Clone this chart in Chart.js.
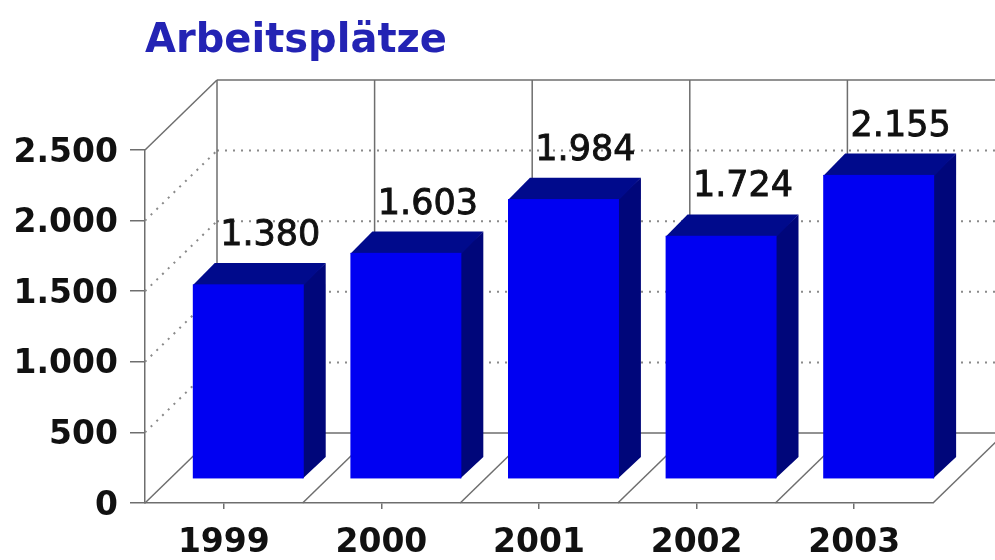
<!DOCTYPE html>
<html lang="de">
<head>
<meta charset="utf-8">
<title>Arbeitsplätze</title>
<script src="https://cdn.jsdelivr.net/npm/chart.js@4/dist/chart.umd.min.js"></script>
<style>
  html, body { margin: 0; padding: 0; background: #fff; }
  canvas { display: block; }
</style>
</head>
<body>
<canvas id="jobsChart" width="995" height="560"></canvas>
<script>
// Arbeitsplätze je Jahr
const years = ['1999', '2000', '2001', '2002', '2003'];
const jobs = [1380, 1603, 1984, 1724, 2155];
const yTicks = [0, 500, 1000, 1500, 2000, 2500];

// deutsche Tausenderpunkte: 1380 -> 1.380
function fmt(n) {
    return String(n).replace(/\B(?=(\d{3})+(?!\d))/g, '.');
}

// Tiefe des Raums (Boden/Seitenwand) und Lage der Säulen darin
const depth = { dx: 72, dy: -70 };
const barFront = 0.34, barBack = 0.645;

const lineColor = '#6e6e6e';
const dotColor = '#8a8a8a';
const frontColor = '#0000f2';
const topColor = '#000a8c';
const sideColor = '#00067a';

function line(ctx, x1, y1, x2, y2) {
    ctx.beginPath();
    ctx.moveTo(x1, y1);
    ctx.lineTo(x2, y2);
    ctx.stroke();
}

function poly(ctx, pts, color) {
    ctx.beginPath();
    ctx.moveTo(pts[0][0], pts[0][1]);
    for (let i = 1; i < pts.length; i++) ctx.lineTo(pts[i][0], pts[i][1]);
    ctx.closePath();
    ctx.fillStyle = color;
    ctx.fill();
}

const box3d = {
    id: 'box3d',
    beforeDatasetsDraw(chart) {
        const { ctx, chartArea: a, scales: { y } } = chart;
        const catW = (a.right - a.left) / years.length;
        const top = y.getPixelForValue(yTicks[yTicks.length - 1]);
        const zero = y.getPixelForValue(0);
        const dx = depth.dx, dy = depth.dy;
        ctx.save();

        // gepunktete Hilfslinien auf Seiten- und Rückwand
        ctx.strokeStyle = dotColor;
        ctx.lineWidth = 2;
        ctx.setLineDash([2, 6]);
        yTicks.slice(1, -1).forEach(v => {
            const py = y.getPixelForValue(v);
            line(ctx, a.left, py, a.left + dx, py + dy);
            line(ctx, a.left + dx, py + dy, a.right + dx, py + dy);
        });
        ctx.setLineDash([]);

        // Kanten von Wand und Boden
        ctx.strokeStyle = lineColor;
        ctx.lineWidth = 1.5;
        line(ctx, a.left, top, a.left + dx, top + dy);
        line(ctx, a.left + dx, top + dy, a.right + dx, top + dy);
        line(ctx, a.left + dx, zero + dy, a.right + dx, zero + dy);
        for (let k = 0; k <= years.length; k++) {
            const fx = a.left + k * catW;
            line(ctx, fx + dx, top + dy, fx + dx, zero + dy);
            line(ctx, fx, zero, fx + dx, zero + dy);
        }
        ctx.restore();
    },
    afterDatasetsDraw(chart) {
        const { ctx } = chart;
        const meta = chart.getDatasetMeta(0);
        const f = { dx: depth.dx * barFront, dy: depth.dy * barFront };
        const b = { dx: depth.dx * barBack, dy: depth.dy * barBack };
        const ddx = b.dx - f.dx, ddy = b.dy - f.dy;
        ctx.save();
        meta.data.forEach((bar, i) => {
            const { x, y, base, width } = bar.getProps(['x', 'y', 'base', 'width'], true);
            const l = x - width / 2 + f.dx, r = x + width / 2 + f.dx;
            const t = y + f.dy, btm = base + f.dy;
            // Seite und Deckel etwas unter die Front ziehen, damit keine Naht bleibt
            poly(ctx, [[r - 1, t], [r + ddx, t + ddy], [r + ddx, btm + ddy], [r - 1, btm]], sideColor);
            poly(ctx, [[l, t + 1], [l + ddx, t + ddy], [r + ddx, t + ddy], [r, t + 1]], topColor);
            ctx.fillStyle = frontColor;
            ctx.fillRect(l, t, r - l, btm - t);

            ctx.fillStyle = '#111';
            ctx.strokeStyle = '#111';
            ctx.lineWidth = 0.9;
            ctx.font = '35px "DejaVu Sans"';
            ctx.textAlign = 'center';
            ctx.textBaseline = 'alphabetic';
            const label = fmt(jobs[i]);
            ctx.fillText(label, x + b.dx, y + b.dy - 18);
            ctx.strokeText(label, x + b.dx, y + b.dy - 18);
        });
        ctx.restore();
    },
    afterDraw(chart) {
        const { ctx } = chart;
        ctx.save();
        ctx.fillStyle = '#2323b4';
        ctx.font = 'bold 40px "DejaVu Sans"';
        ctx.textAlign = 'left';
        ctx.textBaseline = 'alphabetic';
        ctx.fillText('Arbeitsplätze', 145, 52);
        ctx.restore();
    }
};

const axisFont = { family: '"DejaVu Sans"', size: 33, weight: 'bold' };

new Chart(document.getElementById('jobsChart'), {
    type: 'bar',
    data: {
        labels: years,
        datasets: [{
            data: jobs,
            backgroundColor: 'rgba(0,0,0,0)',
            borderWidth: 0,
            barPercentage: 0.704,
            categoryPercentage: 1
        }]
    },
    options: {
        responsive: false,
        animation: false,
        layout: { padding: { top: 150, right: 62, left: 0, bottom: 0 } },
        plugins: {
            legend: { display: false },
            tooltip: { enabled: false },
            title: { display: false }
        },
        scales: {
            x: {
                grid: { drawOnChartArea: false, offset: false, tickLength: 6, color: lineColor, lineWidth: 1.5 },
                border: { color: lineColor, width: 1.5 },
                ticks: { font: axisFont, color: '#111', padding: 15, maxRotation: 0 },
                afterFit(scale) { scale.height = 57; }
            },
            y: {
                min: 0,
                max: 2500,
                grid: { drawOnChartArea: false, tickLength: 15, color: lineColor, lineWidth: 1.5 },
                border: { color: lineColor, width: 1.5 },
                ticks: {
                    stepSize: 500,
                    font: axisFont,
                    color: '#111',
                    padding: 12,
                    labelOffset: 3,
                    callback: v => fmt(v)
                },
                afterFit(scale) { scale.width = 145; }
            }
        }
    },
    plugins: [box3d]
});
</script>
</body>
</html>
